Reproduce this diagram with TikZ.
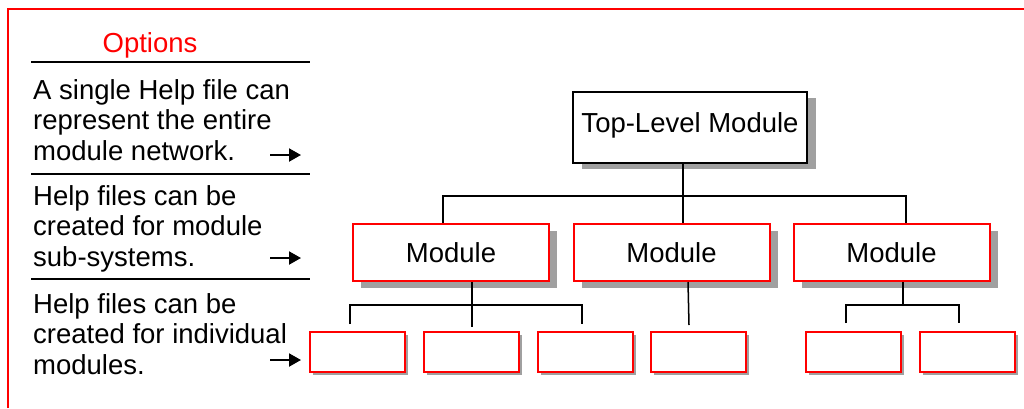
\documentclass[tikz,border=0pt]{standalone}
\usepackage{fontspec}
\setmainfont{Liberation Sans}
\usetikzlibrary{shadows,arrows.meta}
\definecolor{shadowgray}{HTML}{A0A0A0}
\newcommand{\OP}[1]{\textcolor{red}{#1}}

\begin{document}
\begin{tikzpicture}[x=1pt, y=-1pt,
  font=\fontsize{27.5}{30.5}\selectfont,
  conn/.style={line width=1.5pt},
  rule/.style={line width=1.5pt},
  ptr/.style={line width=2pt, -{Triangle[length=12pt,width=13pt]}},
  note/.style={anchor=north west, align=left, inner sep=0pt},
  topbox/.style={draw, line width=1.5pt, fill=white, inner sep=0pt,
    minimum width=234pt, minimum height=71pt, text height=20pt, text depth=9.4pt,
    drop shadow={shadow xshift=9pt, shadow yshift=-6pt, fill=shadowgray, opacity=1}},
  modbox/.style={draw=red, line width=2pt, fill=white, inner sep=0pt,
    minimum width=196pt, minimum height=57pt, text height=20pt, text depth=0pt,
    drop shadow={shadow xshift=8pt, shadow yshift=-7pt, fill=shadowgray, opacity=1}},
  leafbox/.style={draw=red, line width=2pt, fill=white, inner sep=0pt,
    minimum width=95pt, minimum height=40pt,
    drop shadow={shadow xshift=3pt, shadow yshift=-3pt, fill=shadowgray, opacity=1}}]

  \useasboundingbox (0,0) rectangle (1024,408);

  % frame
  \draw[red, line width=2pt] (8,408) -- (8,9) -- (1024,9);

  % options column
  \node[anchor=base] (opt) at (150,52) {\OP{Options}};
  \draw[rule] (31,62) -- (310,62);
  \node[note] (n1) at (33,79) {A single Help file can\\represent the entire\\module network.};
  \draw[rule] (31,174) -- (310,174);
  \node[note] (n2) at (33,185) {Help files can be\\created for module\\sub-systems.};
  \draw[rule] (31,279) -- (310,279);
  \node[note] (n3) at (33,293) {Help files can be\\created for individual\\modules.};

  \coordinate (p1) at (270,155);
  \coordinate (q1) at (301,155);
  \coordinate (p2) at (270,258);
  \coordinate (q2) at (301,258);
  \coordinate (p3) at (270,360);
  \coordinate (q3) at (301,360);
  \draw[ptr] (p1) -- (q1);
  \draw[ptr] (p2) -- (q2);
  \draw[ptr] (p3) -- (q3);

  % tree
  \node[topbox] (top) at (690,127.5) {Top-Level Module};

  \node[modbox] (m1) at (451,252.5) {Module};
  \node[modbox] (m2) at (671.5,252.5) {Module};
  \node[modbox] (m3) at (891.5,252.5) {Module};

  \node[leafbox] (b1) at (357.5,352) {};
  \node[leafbox] (b2) at (471,352) {};
  \node[leafbox] (b3) at (585,352) {};
  \node[leafbox] (b4) at (698.5,352) {};
  \node[leafbox] (b5) at (853.5,352) {};
  \node[leafbox] (b6) at (967,352) {};

  \coordinate (bus0) at (683,196);
  \coordinate (bus1) at (472,305);
  \coordinate (bus3) at (903,305);

  \draw[conn] ([xshift=-7pt]top.south) -- ([xshift=11.5pt]m2.north); %% top->m2
  \draw[conn] ([xshift=-8pt]m1.north) |- (bus0) -| ([xshift=14.5pt]m3.north); %% m1, m3

  \draw[conn] ([xshift=21pt]m1.south) -- ([xshift=1pt,yshift=4pt]b2.north); %% m1->b2
  \draw[conn] ([xshift=-7.5pt,yshift=7pt]b1.north) |- (bus1) -| ([xshift=-3pt,yshift=7pt]b3.north); %% b1, b3

  \draw[conn] ([xshift=16.5pt]m2.south) -- ([xshift=-9.5pt,yshift=6pt]b4.north); %% m2->b4

  \draw[conn] ([xshift=11.5pt]m3.south) -- (bus3); %% m3
  \draw[conn] ([xshift=-7.5pt,yshift=8pt]b5.north) |- (bus3) -| ([xshift=-8pt,yshift=8pt]b6.north); %% b5, b6
\end{tikzpicture}
\end{document}
